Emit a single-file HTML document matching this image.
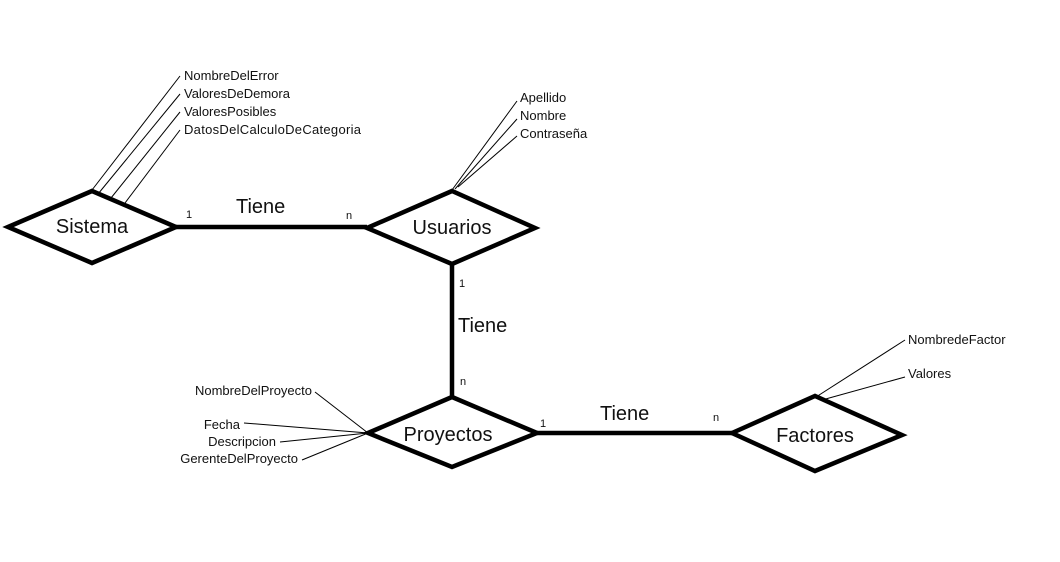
<!DOCTYPE html>
<html><head><meta charset="utf-8"><style>
html,body{margin:0;padding:0;background:#fff;}
svg{display:block;font-family:"Liberation Sans",sans-serif;}
.a{font-size:13px;fill:#111;}
.e{font-size:20px;fill:#111;}
.c{font-size:11px;fill:#111;}
</style></head><body>
<svg width="1060" height="562" viewBox="0 0 1060 562">
<g stroke="#000" stroke-width="1" fill="none">
<line x1="180" y1="76" x2="92" y2="190"/>
<line x1="180" y1="94" x2="98" y2="194"/>
<line x1="180" y1="112" x2="111" y2="198"/>
<line x1="180" y1="130" x2="125" y2="203"/>
<line x1="517" y1="101" x2="452" y2="190"/>
<line x1="517" y1="119" x2="455" y2="189"/>
<line x1="517" y1="136" x2="458" y2="187"/>
<line x1="315" y1="392" x2="368" y2="433"/>
<line x1="244" y1="423" x2="368" y2="433"/>
<line x1="280" y1="442" x2="368" y2="433"/>
<line x1="302" y1="460" x2="368" y2="433"/>
<line x1="905" y1="340" x2="816" y2="397"/>
<line x1="905" y1="377" x2="822" y2="400"/>
</g>
<g stroke="#000" stroke-width="4.5" fill="#fff" stroke-linejoin="miter">
<line x1="176" y1="227" x2="367" y2="227"/>
<line x1="452" y1="264" x2="452" y2="396"/>
<line x1="537" y1="433" x2="732" y2="433"/>
<polygon points="8,227 92,191 176,227 92,263"/>
<polygon points="367,228 452,191 535,228 452,264"/>
<polygon points="368,433 452,397 537,433 452,467"/>
<polygon points="732,433 815,396 902,435 815,471"/>
</g>
<text class="e" x="92" y="233" text-anchor="middle">Sistema</text>
<text class="e" x="452" y="234" text-anchor="middle">Usuarios</text>
<text class="e" x="448" y="441" text-anchor="middle">Proyectos</text>
<text class="e" x="815" y="442" text-anchor="middle">Factores</text>
<text class="e" x="236" y="213">Tiene</text>
<text class="e" x="458" y="332">Tiene</text>
<text class="e" x="600" y="420">Tiene</text>
<text class="c" x="186" y="218">1</text>
<text class="c" x="346" y="219">n</text>
<text class="c" x="459" y="287">1</text>
<text class="c" x="460" y="385">n</text>
<text class="c" x="540" y="427">1</text>
<text class="c" x="713" y="421">n</text>
<g class="a">
<text x="184" y="80">NombreDelError</text>
<text x="184" y="98">ValoresDeDemora</text>
<text x="184" y="116">ValoresPosibles</text>
<text x="184" y="134" textLength="177">DatosDelCalculoDeCategoria</text>
</g>
<g class="a">
<text x="520" y="102">Apellido</text>
<text x="520" y="120">Nombre</text>
<text x="520" y="138">Contraseña</text>
</g>
<g class="a" text-anchor="end">
<text x="312" y="395">NombreDelProyecto</text>
<text x="240" y="429">Fecha</text>
<text x="276" y="446">Descripcion</text>
<text x="298" y="463">GerenteDelProyecto</text>
</g>
<g class="a">
<text x="908" y="344">NombredeFactor</text>
<text x="908" y="378">Valores</text>
</g>
</svg>
</body></html>
